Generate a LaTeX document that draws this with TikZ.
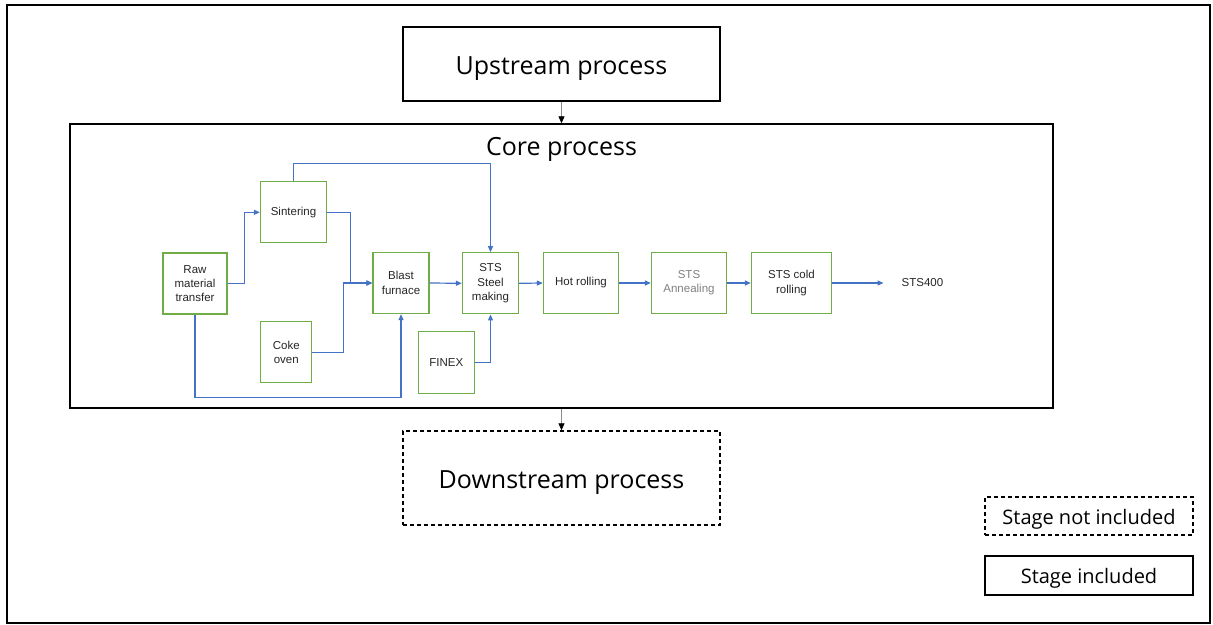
\documentclass[tikz,border=0pt]{standalone}
\usepackage{fontspec}
\setmainfont{Open Sans}
\newfontfamily\arialfont{Liberation Sans}
\usetikzlibrary{arrows.meta}
\definecolor{boxgreen}{RGB}{112,173,71}
\definecolor{flowblue}{RGB}{68,114,196}
\begin{document}
\begin{tikzpicture}[x=1pt,y=-1pt,
   stage/.style={draw,line width=1.4pt,inner sep=0pt,text height=21pt,text depth=0pt,font=\fontsize{25}{30}\selectfont},
   notincl/.style={stage,dash pattern=on 4pt off 3pt},
   legendbox/.style={draw,line width=1.4pt,inner sep=0pt,minimum width=208pt,text height=16.5pt,text depth=0pt,
     font=\fontsize{20}{24}\selectfont},
   unit/.style={draw=boxgreen,line width=1.3pt,inner sep=0pt,minimum height=61pt,align=center,
     text=black!85,font=\arialfont\fontsize{11.5}{14.3}\selectfont},
   flow/.style={draw=flowblue,line width=1.2pt,-{Triangle[length=6pt,width=5pt]}},
   link/.style={draw=black!45,line width=0.8pt,-{Triangle[black,length=7pt,width=6pt]}}]
   \useasboundingbox (0,0) rectangle (1213,624);
   \draw[line width=1.2pt] (7,5) rectangle (1210,623);
   \draw[line width=2.5pt] (7,5) -- (1210,5);

   \node[stage,minimum width=317pt,minimum height=74pt] (up) at (561.5,64) {Upstream process};
   \node[draw,line width=1.4pt,minimum width=983pt,minimum height=284pt] (core) at (561.5,266) {};
   \node[font=\fontsize{25}{30}\selectfont] (coretitle) at (561.5,149) {Core process};
   \node[notincl,minimum width=317pt,minimum height=94pt] (down) at (561.5,478) {Downstream process};
   \draw[link] (up.south) -- (core.north);
   \draw[link] (core.south) -- (down.north);

   \node[legendbox,dash pattern=on 4pt off 3pt,minimum height=38pt] (notin) at (1089,516) {Stage not included};
   \node[legendbox,minimum height=39pt] (incl) at (1089,575.5) {Stage included};

   \node[unit,minimum width=64pt] (raw) at (195,283.5) {Raw\\material\\transfer};
   \node[unit,minimum width=66pt] (sinter) at (293.5,212.3) {Sintering};
   \node[unit,minimum width=51pt] (coke) at (286.3,352.3) {Coke\\oven};
   \node[unit,minimum width=56pt] (blast) at (401,283) {Blast\\furnace};
   \node[unit,minimum width=56pt] (steel) at (490.5,283.3) {STS\\Steel\\making};
   \node[unit,minimum width=56pt,minimum height=62pt] (finex) at (446.3,362.5) {FINEX};
   \node[unit,minimum width=75pt] (hot) at (581,283) {Hot rolling};
   \node[unit,minimum width=75pt,text=black!50] (anneal) at (689,283) {STS\\Annealing};
   \node[unit,minimum width=80pt] (cold) at (791.5,283) {STS cold\\rolling};
   \node[inner xsep=18pt,text=black!85,font=\arialfont\fontsize{11.5}{14}\selectfont] (sts) at (922.5,283) {STS400};

   \draw[flow] (raw.east) -- ++(17,0) |- (sinter.west);
   \draw[flow] (sinter.east) -- ++(23,0) |- (blast.west);
   \draw[flow] (coke.east) -- ++(31,0) |- (blast.west);
   \draw[flow] (sinter.north) -- ++(0,-18) -| (steel.north);
   \draw[flow] (raw.south) -- ++(0,83) -| (blast.south);
   \draw[flow] (blast.east) -- (steel.west);
   \draw[flow] (finex.east) -| (steel.south);
   \draw[flow] (steel.east) -- (hot.west);
   \draw[flow] (hot.east) -- (anneal.west);
   \draw[flow] (anneal.east) -- (cold.west);
   \draw[flow] (cold.east) -- (sts.west);
\end{tikzpicture}
\end{document}
